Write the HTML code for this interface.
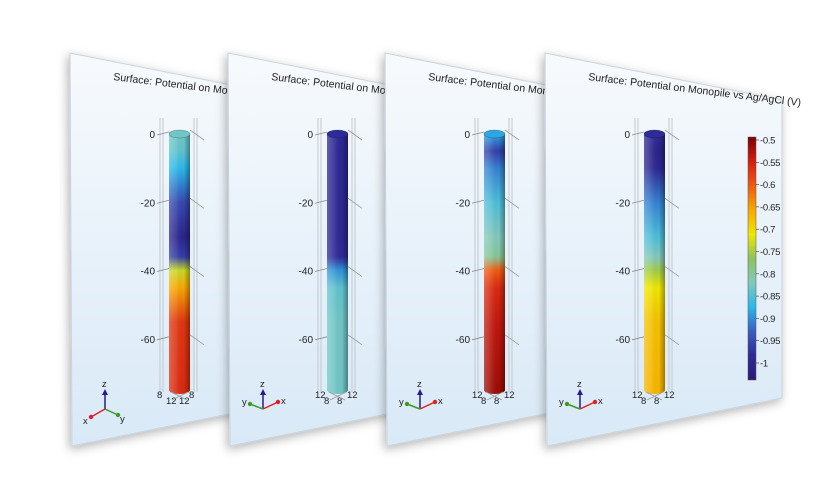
<!DOCTYPE html>
<html><head><meta charset="utf-8"><style>
html,body{margin:0;padding:0;background:#fff;width:840px;height:500px;overflow:hidden}
svg{display:block;font-family:"Liberation Sans",sans-serif}
</style></head><body>
<svg id="fig" width="840" height="500" viewBox="0 0 840 500">
<defs>
<linearGradient id="panelBg" x1="0" y1="0" x2="0" y2="1">
<stop offset="0" stop-color="#f7fafd"/><stop offset="1" stop-color="#d9e9f7"/></linearGradient>
<linearGradient id="shade" x1="0" y1="0" x2="1" y2="0">
<stop offset="0" stop-color="#fff" stop-opacity="0.25"/><stop offset="0.35" stop-color="#fff" stop-opacity="0.1"/>
<stop offset="0.7" stop-color="#000" stop-opacity="0"/><stop offset="1" stop-color="#000" stop-opacity="0.35"/></linearGradient>
<filter id="sh" x="-20%" y="-20%" width="140%" height="140%"><feDropShadow dx="-2" dy="3" stdDeviation="5" flood-color="#000" flood-opacity="0.3"/></filter>
</defs>
<g id="root"></g>
</svg>
<script>
// colour scale (V)
const cbarTicks = [-0.5,-0.55,-0.6,-0.65,-0.7,-0.75,-0.8,-0.85,-0.9,-0.95,-1];
const cbarColors = ["#7a0000","#d41e10","#ef5a10","#f7a800","#f0e600","#8cc45e","#82c8bc","#2ab8ea","#3b5cc0","#2e2a98","#2a1a78"];
const depthTicks = [0,-20,-40,-60];
// potential profiles along the pile, per panel
const depths = [0,-5,-10,-20,-30,-36,-40,-45,-55,-75];
const potential1 = [-0.81,-0.82,-0.85,-0.92,-0.97,-0.93,-0.72,-0.65,-0.57,-0.56];
const potential2 = [-0.95,-0.96,-0.96,-0.96,-0.96,-0.95,-0.87,-0.82,-0.81,-0.81];
const potential3 = [-0.86,-0.93,-0.88,-0.83,-0.8,-0.78,-0.6,-0.56,-0.54,-0.52];
const potential4 = [-0.95,-0.97,-0.96,-0.88,-0.83,-0.8,-0.74,-0.7,-0.67,-0.66];
const panelLefts = [70,228,385,545];
const profiles = [potential1,potential2,potential3,potential4];
const triadFlip = [true,false,false,false];
const baseLabels = [["8","12","12","8"],["12","8","8","12"],["12","8","8","12"],["12","8","8","12"]];

const NS="http://www.w3.org/2000/svg";
const root=document.getElementById('root');
const defs=document.querySelector('defs');
function mk(t,a,p){const e=document.createElementNS(NS,t);for(const k in a)e.setAttribute(k,a[k]);(p||root).appendChild(e);return e;}
const yDepth=d=>134+(-d)*(256/75);
function hex(c){return [1,3,5].map(i=>parseInt(c.substr(i,2),16));}
function colorOf(v){
  const t=Math.max(0,Math.min(10,(-0.5-v)/0.05));
  const i=Math.min(9,Math.floor(t)),f=t-i;
  const a=hex(cbarColors[i]),b=hex(cbarColors[i+1]);
  return 'rgb('+a.map((x,k)=>Math.round(x+(b[k]-x)*f)).join(',')+')';
}

panelLefts.forEach((L,pi)=>{
  const g=mk('g',{});
  
  
  const R=L+237;
  const poly=mk('polygon',{points:`${L},53 ${R},100 ${R},398 ${L+2},446`,fill:'url(#panelBg)',stroke:'#c8d4de','stroke-width':'1',filter:'url(#sh)'},g);
  
  
  const title=mk('text',{x:L+43,y:80,'font-size':'10.5',fill:'#222',transform:`rotate(7 ${L+43} 80)`},g);
  title.textContent='Surface: Potential on Monopile vs Ag/AgCl (V)';
  
  
  const cx=L+99, w=21;
  [-9,-6,25,28].forEach(dx=>{
    const ln=mk('line',{x1:cx+dx,y1:118,x2:cx+dx,y2:392,stroke:'#b8bec4','stroke-width':'0.8'},g);
    
    
  });
  depthTicks.forEach(d=>{
    const y=yDepth(d);
    const tl=mk('line',{x1:cx-12,y1:y+1,x2:cx,y2:y-2,stroke:'#888','stroke-width':'0.8'},g);
    
    
    const rl=mk('line',{x1:cx+w,y1:y-4,x2:cx+w+14,y2:y+6,stroke:'#999','stroke-width':'0.8'},g);
    
    
    const t=mk('text',{x:cx-14,y:y+4,'font-size':'10','text-anchor':'end',fill:'#222'},g);
    t.textContent=String(d);
    
    
  });
  const gid='cyl'+pi;
  const lg=mk('linearGradient',{id:gid,x1:0,y1:yDepth(0),x2:0,y2:yDepth(-75),gradientUnits:'userSpaceOnUse'},defs);
  depths.forEach((d,i)=>{mk('stop',{offset:(-d/75).toFixed(3),'stop-color':colorOf(profiles[pi][i])},lg);});
  const top=yDepth(0), bot=yDepth(-75);
  const body=mk('path',{d:`M${cx},${top} L${cx},${bot} A${w/2},4 0 0 0 ${cx+w},${bot} L${cx+w},${top} Z`,fill:`url(#${gid})`},g);
  
  
  mk('path',{d:`M${cx},${top} L${cx},${bot} A${w/2},4 0 0 0 ${cx+w},${bot} L${cx+w},${top} Z`,fill:'url(#shade)'},g);
  const cap=mk('ellipse',{cx:cx+w/2,cy:top,rx:w/2,ry:4,fill:colorOf(profiles[pi][0]),stroke:'rgba(0,0,0,0.25)','stroke-width':'0.7'},g);
  
  
  const bl=baseLabels[pi];
  [[cx-12,398],[cx-3,404],[cx+10,404],[cx+20,398]].forEach(([x,y],k)=>{
    const t=mk('text',{x,y,'font-size':'9.5',fill:'#222'},g);
    t.textContent=bl[k];
    
    
  });
  mk('path',{d:`M${cx+2},${bot+2} l16,8 M${cx+19},${bot+2} l-16,8`,stroke:'#999','stroke-width':'0.8',fill:'none'},g);
  const tx=L+35, ty=409;
  const tri=mk('g',{},g);
  
  
  mk('line',{x1:tx,y1:ty,x2:tx,y2:ty-17,stroke:'#2a1a8a','stroke-width':'1.5'},tri);
  mk('polygon',{points:`${tx-3},${ty-14} ${tx+3},${ty-14} ${tx},${ty-20}`,fill:'#2a1a8a'},tri);
  const zt=mk('text',{x:tx-3,y:ty-22,'font-size':'9.5',fill:'#222'},tri);zt.textContent='z';
  const flip=triadFlip[pi];
  const red=flip?[-14,8]:[15,-7], green=flip?[13,6]:[-13,-5];
  mk('line',{x1:tx,y1:ty,x2:tx+red[0],y2:ty+red[1],stroke:'#e02020','stroke-width':'1.5'},tri);
  mk('circle',{cx:tx+red[0],cy:ty+red[1],r:2.2,fill:'#e02020'},tri);
  mk('line',{x1:tx,y1:ty,x2:tx+green[0],y2:ty+green[1],stroke:'#3a9a2a','stroke-width':'1.5'},tri);
  mk('circle',{cx:tx+green[0],cy:ty+green[1],r:2.2,fill:'#3a9a2a'},tri);
  const xt=mk('text',{x:tx+red[0]+(flip?-8:3),y:ty+red[1]+(flip?7:2),'font-size':'9.5',fill:'#222'},tri);xt.textContent='x';
  const yt=mk('text',{x:tx+green[0]+(flip?2:-8),y:ty+green[1]+(flip?7:1),'font-size':'9.5',fill:'#222'},tri);yt.textContent='y';
  if(pi===3){
    const cg=mk('g',{},g);
    
    
    const cbTop=137, cbBot=380, cbx=748;
    const cl=mk('linearGradient',{id:'cbar',x1:0,y1:0,x2:0,y2:1},defs);
    cbarColors.forEach((c,i)=>mk('stop',{offset:i/(cbarColors.length-1),'stop-color':c},cl));
    const rect=mk('rect',{x:cbx,y:cbTop,width:8,height:cbBot-cbTop,fill:'url(#cbar)',stroke:'#555','stroke-width':'0.5'},cg);
    
    
    const yv=v=>cbTop+3+(-0.5-v)/0.5*223;
    cbarTicks.forEach(v=>{
      const y=yv(v);
      mk('line',{x1:cbx+8,y1:y,x2:cbx+11,y2:y,stroke:'#333','stroke-width':'0.6'},cg);
      const t=mk('text',{x:cbx+12,y:y+3.5,'font-size':'9.5','letter-spacing':'-0.3',fill:'#222'},cg);
      t.textContent=String(v);
      
      
    });
  }
});
</script>
</body></html>
